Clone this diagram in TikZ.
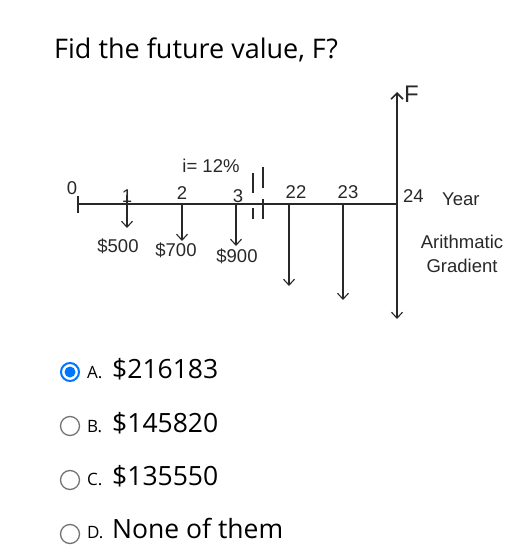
\documentclass[tikz,border=0pt]{standalone}
\usepackage{fontspec}
\setmainfont{Open Sans}
\newfontfamily\arialf{Liberation Sans}
\usetikzlibrary{arrows.meta}
\definecolor{radioblue}{RGB}{0,117,255}
\definecolor{ink}{RGB}{40,40,40}
\begin{document}
\begin{tikzpicture}[x=1pt,y=-1pt,
  lbl/.style={font=\arialf\fontsize{18.5}{20}\selectfont, inner sep=0pt, text=ink, anchor=base},
  axisline/.style={line width=1.8pt, draw=ink},
  thin/.style={line width=1.1pt, draw=ink},
  flow/.style={line width=1.1pt, draw=ink, -{Straight Barb[length=6pt,width=11pt,line width=1.1pt]}},
  bigflow/.style={line width=1.8pt, draw=ink, -{Straight Barb[length=6pt,width=12pt,line width=1.6pt]}},
  qtext/.style={font=\fontsize{26.5}{30}\selectfont, inner sep=0pt, anchor=base west},
  titletext/.style={font=\fontsize{27}{30}\selectfont, inner sep=0pt, anchor=base west},
  optletter/.style={font=\fontsize{17}{20}\selectfont, inner sep=0pt, anchor=base west},
  radio/.style={circle, draw=black!55, line width=1.3pt, minimum size=19pt, inner sep=0pt},
  radiosel/.style={circle, draw=radioblue, line width=2pt, minimum size=18pt, inner sep=0pt, fill=white},
  radiodot/.style={circle, fill=radioblue, minimum size=11pt, inner sep=0pt}
]
\useasboundingbox (0,0) rectangle (514,553);

% title
\node[titletext] (title) at (54,59) {Fid the future value, F?};

% axis points
\coordinate (t0) at (78,204);
\coordinate (t1) at (127,204);
\coordinate (t2) at (182,204);
\coordinate (t3) at (236,204);
\coordinate (t22) at (289,204);
\coordinate (t23) at (343,204);
\coordinate (t24) at (397,204);

\draw[axisline] (t0) -- (t24);

% ticks
\coordinate (t0a) at (78,196); \coordinate (t0b) at (78,213);
\draw[thin] (t0a) -- (t0b);
\coordinate (t1a) at (127,195);
\draw[thin] (t1a) -- (t1);

% break marks
\coordinate (b1a) at (253,173); \coordinate (b1b) at (253,193);
\coordinate (b1c) at (253,208); \coordinate (b1d) at (253,219);
\coordinate (b2a) at (263,167); \coordinate (b2b) at (263,188);
\coordinate (b2c) at (263,199); \coordinate (b2d) at (263,219);
\draw[thin] (b1a) -- (b1b);
\draw[thin] (b1c) -- (b1d);
\draw[thin] (b2a) -- (b2b);
\draw[thin] (b2c) -- (b2d);

% cash flow arrows
\coordinate (e1) at (127,228);
\coordinate (e2) at (182,241);
\coordinate (e3) at (236,246);
\coordinate (e22) at (289,286);
\coordinate (e23) at (343,300);
\coordinate (e24) at (397,319);
\coordinate (eF) at (397,92);
\draw[flow] (t1) -- (e1);
\draw[flow] (t2) -- (e2);
\draw[flow] (t3) -- (e3);
\draw[flow] (t22) -- (e22);
\draw[flow] (t23) -- (e23);
\draw[flow] (t24) -- (e24);
\draw[bigflow] (t24) -- (eF);

% labels
\node[lbl] (l0) at (72,195) {0};
\node[lbl] (l1) at (127,203) {1};
\node[lbl] (l2) at (182,200) {2};
\node[lbl] (l3) at (238,203) {3};
\node[lbl] (l22) at (296,198) {22};
\node[lbl] (l23) at (348,198) {23};
\node[lbl, anchor=base west] (l24) at (403,203) {24};
\node[lbl, anchor=base west] (lyear) at (442,205) {Year};
\node[lbl, font=\arialf\fontsize{24}{26}\selectfont, anchor=base west] (lF) at (404,103) {F};
\node[lbl] (li) at (211,173) {i= 12\%};
\node[lbl] (m1) at (118,252) {\$500};
\node[lbl] (m2) at (176,256) {\$700};
\node[lbl] (m3) at (237,262) {\$900};
\node[lbl] (ar) at (462,248) {Arithmatic};
\node[lbl] (gr) at (462,272) {Gradient};

% options
\node[radiosel] (ra) at (70,372) {};
\node[radiodot] (rad) at (70,372) {};
\node[radio] (rb) at (70,426) {};
\node[radio] (rc) at (70,480) {};
\node[radio] (rd) at (70,534) {};

\node[optletter] (oa) at (87,378) {A.};
\node[optletter] (ob) at (87,432) {B.};
\node[optletter] (oc) at (87,485) {C.};
\node[optletter] (od) at (87,538) {D.};

\node[qtext] (va) at (112,378) {\$216183};
\node[qtext] (vb) at (112,432) {\$145820};
\node[qtext] (vc) at (112,485) {\$135550};
\node[qtext] (vd) at (112,538) {None of them};
\end{tikzpicture}
\end{document}
